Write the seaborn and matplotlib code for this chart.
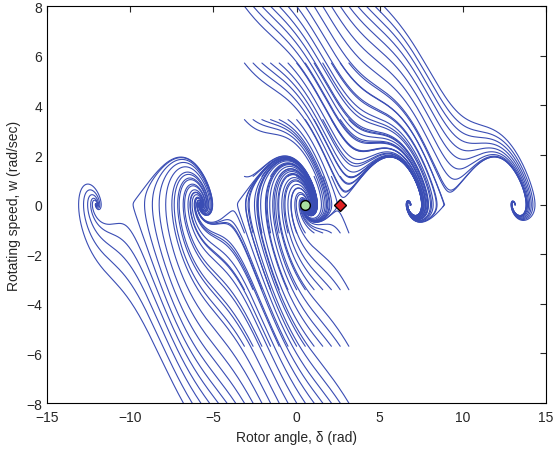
import numpy as np
import pandas as pd
import matplotlib
matplotlib.use("Agg")
import matplotlib.pyplot as plt
import seaborn as sns

# ---- data ----
# starting points of the trajectories, one list of rotor angles per starting speed row
w_rows = [-8.0, -5.71, -3.43, -1.14, 1.14, 3.43, 5.71, 8.0]
delta_rows = [
    [-6.81, -6.28, -5.76, -5.24, -4.71, -4.19, -3.67, -3.14, -2.62, -2.09, -1.57, -1.05,
     -0.52, 0.0, 0.52, 1.05, 1.57, 2.09, 2.62, 3.14],
    [-3.14, -2.62, -2.09, -1.57, -1.05, -0.52, 0.0, 0.52, 1.05, 1.57, 2.09, 2.62, 3.14],
    [-3.14, -2.62, -2.09, -1.57, -1.05, -0.52, 0.0, 0.52, 1.05, 1.57, 2.09, 2.62, 3.14],
    [-3.14, -2.62, -2.09, -1.57, -1.05, -0.52, 0.0, 0.52, 1.05, 1.57, 2.09, 2.62, 3.14],
    [-3.14, -2.62, -2.09, -1.57, -1.05, -0.52, 0.0, 0.52, 1.05, 1.57, 2.09, 2.62, 3.14],
    [-3.14, -2.62, -2.09, -1.57, -1.05, -0.52, 0.0, 0.52, 1.05, 1.57, 2.09, 2.62, 3.14],
    [-3.14, -2.62, -2.09, -1.57, -1.05, -0.52, 0.0, 0.52, 1.05, 1.57, 2.09, 2.62, 3.14],
    [-3.14, -2.62, -2.09, -1.57, -1.05, -0.52, 0.0, 0.52, 1.05, 1.57, 2.09, 2.62, 3.14,
     3.67, 4.19, 4.71, 5.24],
]
# swing-equation parameters: M*w' = Pm - Pmax*sin(delta) - D*w
M = 1.0
D = 1.0
Pm = 0.85
Pmax = 1.7
T_end = 10.0
dt = 0.02
# equilibrium points
stable_pt = [0.52, 0.0]
unstable_pt = [2.62, 0.0]

# ---- integrate trajectories ----
d = np.array([v for row in delta_rows for v in row], dtype=float)
w = np.array([wr for wr, row in zip(w_rows, delta_rows) for _ in row], dtype=float)

def f(d, w):
    return w, (Pm - Pmax * np.sin(d) - D * w) / M

n_steps = int(T_end / dt)
ds = [d.copy()]
ws = [w.copy()]
for _ in range(n_steps):
    k1d, k1w = f(d, w)
    k2d, k2w = f(d + 0.5 * dt * k1d, w + 0.5 * dt * k1w)
    k3d, k3w = f(d + 0.5 * dt * k2d, w + 0.5 * dt * k2w)
    k4d, k4w = f(d + dt * k3d, w + dt * k3w)
    d = d + dt / 6 * (k1d + 2 * k2d + 2 * k3d + k4d)
    w = w + dt / 6 * (k1w + 2 * k2w + 2 * k3w + k4w)
    ds.append(d.copy())
    ws.append(w.copy())
ds = np.array(ds)
ws = np.array(ws)
n_traj = ds.shape[1]
df = pd.DataFrame({
    "delta": ds.T.ravel(),
    "w": ws.T.ravel(),
    "traj": np.repeat(np.arange(n_traj), ds.shape[0]),
})

# ---- plot ----
sns.set_style("white")
plt.rcParams["font.family"] = ["Liberation Sans", "DejaVu Sans"]
fig = plt.figure(figsize=(5.55, 4.52), dpi=100)
ax = fig.add_axes([0.085, 0.106, 0.899, 0.878])
sns.lineplot(data=df, x="delta", y="w", units="traj", estimator=None, sort=False,
             color="#3a4db4", linewidth=0.8, ax=ax, legend=False)
ax.plot(*stable_pt, marker="o", markersize=7, markerfacecolor="#a8e0a0",
        markeredgecolor="black", markeredgewidth=1.0, linestyle="none", zorder=5)
ax.plot(*unstable_pt, marker="D", markersize=6, markerfacecolor="#e02020",
        markeredgecolor="black", markeredgewidth=1.0, linestyle="none", zorder=5)

ax.set_xlim(-15, 15)
ax.set_ylim(-8, 8)
ax.set_xticks([-15, -10, -5, 0, 5, 10, 15])
ax.set_yticks([-8, -6, -4, -2, 0, 2, 4, 6, 8])
ax.tick_params(direction="in", top=True, right=True, length=4, labelsize=10, width=0.8)
ax.tick_params(axis="x", pad=5)
for s in ax.spines.values():
    s.set_visible(True)
    s.set_color("black")
    s.set_linewidth(0.8)
ax.set_xlabel("Rotor angle, δ (rad)", fontsize=10)
ax.set_ylabel("Rotating speed, w (rad/sec)", fontsize=10)
fig.savefig("out.png", dpi=100)
